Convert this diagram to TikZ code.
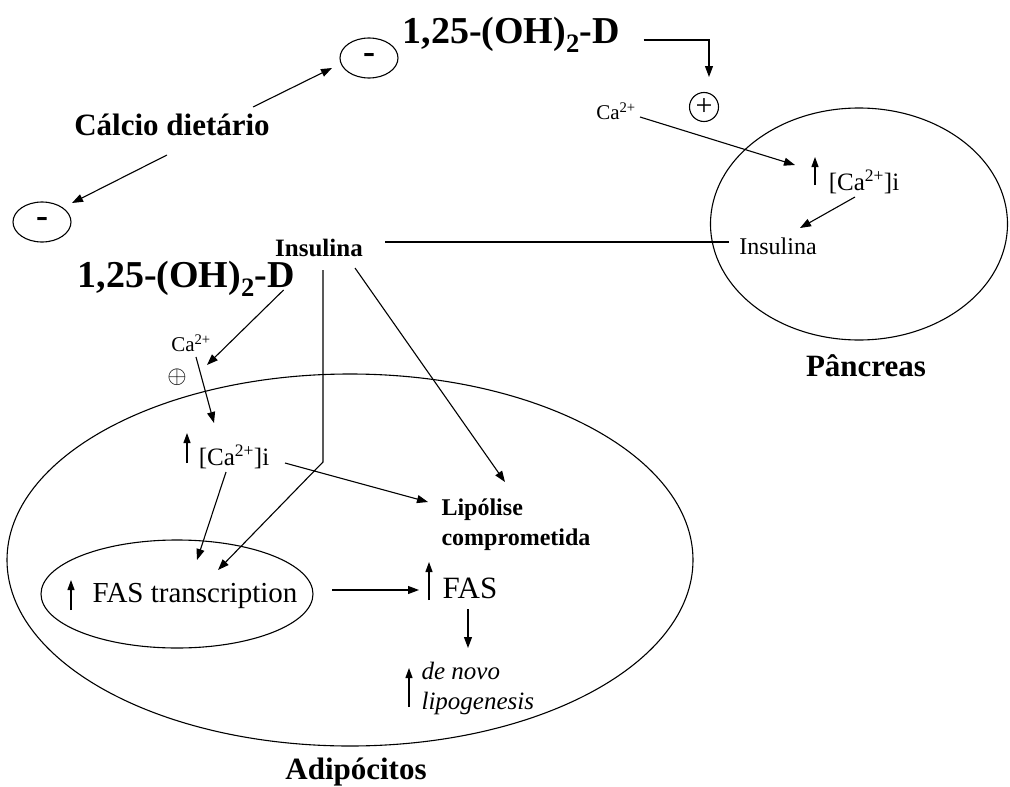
\documentclass[tikz,border=0pt]{standalone}
\usepackage{fontspec}
\setmainfont{Liberation Serif}
\usetikzlibrary{arrows.meta,shapes.geometric}

\begin{document}
\begin{tikzpicture}[x=1pt,y=-1pt,
  line width=1.1pt,
  every node/.style={inner sep=0pt},
  vitd/.style={anchor=base west, font=\fontsize{38}{40}\selectfont\bfseries},
  head/.style={font=\fontsize{31}{33}\selectfont\bfseries},
  lbl/.style={font=\fontsize{21}{23}\selectfont},
  minus/.style={ellipse, draw, minimum width=58pt, minimum height=40pt, font=\fontsize{36}{36}\selectfont\bfseries},
  cell/.style={ellipse, draw},
  arr/.style={-{Triangle[length=11pt,width=8pt]}},
  uparr/.style={-{Triangle[length=10pt,width=7pt]}}
]
\useasboundingbox (0,0) rectangle (1010,787);

% cells
\node[cell, minimum width=686pt, minimum height=372pt] (adipo) at (350,560) {};
\node[cell, minimum width=297pt, minimum height=232pt] (pancreas) at (859,224) {};
\node[cell, minimum width=272pt, minimum height=108pt] (fasell) at (177,594) {};

% dietary calcium
\node[vitd] (dtop) at (402,43) {1,25-(OH)\textsubscript{2}-D};
\node[minus] (mtop) at (369,58) {-};
\node[head] (calcio) at (172,125) {Cálcio dietário};
\node[minus] (mleft) at (42,222) {-};
\node[vitd] (dleft) at (77,287) {1,25-(OH)\textsubscript{2}-D};

% pancreas
\node[circle, draw, minimum size=29pt, font=\fontsize{30}{30}\selectfont] (plusR) at (704,107) {+};
\node[lbl] (caR) at (616,111) {Ca\textsuperscript{2+}};
\node[lbl, font=\fontsize{25}{27}\selectfont] (caiR) at (864,182) {[Ca\textsuperscript{2+}]i};
\node[lbl, font=\fontsize{24}{26}\selectfont] (insR) at (778,246) {Insulina};
\node[head] (pancname) at (866,366) {Pâncreas};

% adipocyte
\node[font=\fontsize{25}{27}\selectfont\bfseries] (insL) at (319,248) {Insulina};
\node[lbl] (caL) at (191,343) {Ca\textsuperscript{2+}};
\node[font=\fontsize{26}{26}\selectfont] (plusL) at (177,377) {$\oplus$};
\node[lbl, font=\fontsize{25}{27}\selectfont] (caiL) at (234,457) {[Ca\textsuperscript{2+}]i};
\node[font=\fontsize{29}{31}\selectfont] (fastr) at (195,596) {FAS transcription};
\node[font=\fontsize{31}{33}\selectfont] (fasR) at (470,588) {FAS};
\node[anchor=west, align=left, font=\fontsize{24}{30}\selectfont\bfseries] (lipo) at (441,525) {Lipólise\\comprometida};
\node[anchor=west, align=left, font=\fontsize{25}{30}\selectfont\itshape] (denovo) at (421,688) {de novo\\lipogenesis};
\node[head] (adiponame) at (356,772) {Adipócitos};
\coordinate (bend) at (323,462);

% calcium -> vitamin D
\draw[arr] ([shift={(81,-18)}]calcio.center) -- ([shift={(-37,10)}]mtop.center);
\draw[arr] ([shift={(-5,30)}]calcio.center) -- ([shift={(30,-19)}]mleft.center);

% pancreas arrows
\draw[arr] ([shift={(23,-3)}]dtop.base east) -| ([shift={(5,-30)}]plusR.center);
\draw[arr] ([shift={(24,6)}]caR.center) -- ([shift={(-69,-17)}]caiR.center);
\draw[arr] ([shift={(-9,15)}]caiR.center) -- ([shift={(22,-18)}]insR.center);
\draw ([shift={(66,-6)}]insL.center) -- ([shift={(-49,-4)}]insR.center);

% adipocyte arrows
\draw[arr] ([shift={(-12,3)}]dleft.base east) -- ([shift={(16,22)}]caL.center);
\draw[arr] ([shift={(5,14)}]caL.center) -- ([shift={(-20,-34)}]caiL.center);
\draw[arr] ([shift={(-8,15)}]caiL.center) -- ([shift={(20,-34)}]fasell.center);
\draw[arr] ([shift={(4,22)}]insL.center) -- (bend) -- ([shift={(41,-24)}]fasell.center);
\draw[arr] ([shift={(36,20)}]insL.center) -- ([shift={(64,-43)}]lipo.west);
\draw[arr] ([shift={(51,6)}]caiL.center) -- ([shift={(-13,-23)}]lipo.west);
\draw[arr] ([shift={(155,-4)}]fasell.center) -- ([shift={(-51,2)}]fasR.center);
\draw[arr] ([shift={(-2,21)}]fasR.center) -- ([shift={(47,-40)}]denovo.west);

% up arrows
\draw[uparr] ([shift={(-49,3)}]caiR.center) -- ([shift={(-49,-25)}]caiR.center);
\draw[uparr] ([shift={(-47,6)}]caiL.center) -- ([shift={(-47,-24)}]caiL.center);
\draw[uparr] ([shift={(-124,14)}]fastr.center) -- ([shift={(-124,-16)}]fastr.center);
\draw[uparr] ([shift={(-41,12)}]fasR.center) -- ([shift={(-41,-26)}]fasR.center);
\draw[uparr] ([shift={(-12,19)}]denovo.west) -- ([shift={(-12,-20)}]denovo.west);

\end{tikzpicture}
\end{document}
